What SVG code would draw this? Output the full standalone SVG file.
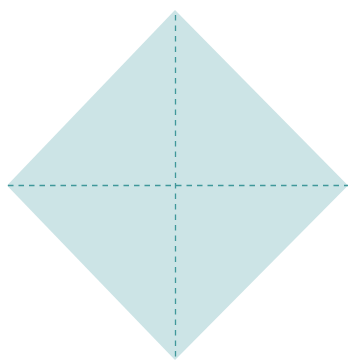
<svg xmlns="http://www.w3.org/2000/svg" width="349" height="360" viewBox="0 0 349 360">
<style>
.d{stroke:#3f979a;stroke-width:1.3;stroke-dasharray:5.5 5;fill:none}
</style>
<rect width="349" height="360" fill="#ffffff"/>
<g id="diamond">
<polygon points="175,10 348,185.5 175,360 7,185.5" fill="#cce4e6"/>
</g>
<g id="connectors">
<line class="d" x1="175.5" y1="15" x2="175.5" y2="360"/>
<line class="d" x1="8" y1="185.5" x2="348" y2="185.5"/>
</g>
</svg>
